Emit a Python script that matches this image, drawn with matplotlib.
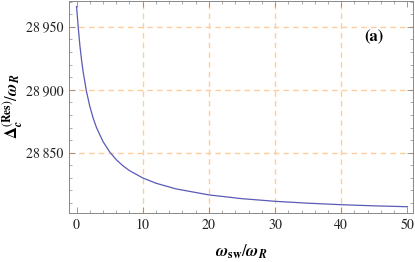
import matplotlib
matplotlib.use("Agg")
import matplotlib.pyplot as plt
from matplotlib.ticker import MultipleLocator, FuncFormatter

# values
x_vals = [0, 0.25, 0.5, 0.75, 1, 1.5, 2, 2.5, 3, 4, 5, 6, 7, 8, 10, 12, 15,
          20, 25, 30, 35, 40, 45, 50]
delta_vals = [28966.2, 28949.8, 28935.3, 28923.9, 28914.1, 28898.6, 28886.9,
              28877.6, 28870.1, 28858.8, 28850.6, 28844.4, 28839.6, 28835.7,
              28829.9, 28825.7, 28821.2, 28816.4, 28813.4, 28811.3, 28809.8,
              28808.6, 28807.7, 28807.0]
grid_x = [10, 20, 30, 40]
grid_y = [28850, 28900, 28950]

plt.rcParams['font.family'] = ['STIXGeneral', 'DejaVu Serif']
plt.rcParams['mathtext.fontset'] = 'stix'

fig = plt.figure(figsize=(4.15, 2.62), dpi=100)
ax = fig.add_axes([0.166, 0.187, 0.83, 0.811])

for gx in grid_x:
    ax.axvline(gx, color='#ffcd9c', lw=1.0, dashes=(4, 3), zorder=1)
for gy in grid_y:
    ax.axhline(gy, color='#ffcd9c', lw=1.0, dashes=(4, 3), zorder=1)

ax.plot(x_vals, delta_vals, color='#5a5ab8', lw=0.9, zorder=3)

ax.set_xlim(-1.16, 50.9)
ax.set_ylim(28802, 28971)
ax.xaxis.set_major_locator(MultipleLocator(10))
ax.xaxis.set_minor_locator(MultipleLocator(2))
ax.yaxis.set_major_locator(MultipleLocator(50))
ax.yaxis.set_minor_locator(MultipleLocator(10))
ax.yaxis.set_major_formatter(FuncFormatter(
    lambda v, p: f"{int(v):,}".replace(',', '\u2009')))

ax.tick_params(which='both', direction='in', top=True, right=True,
               color='#888888', labelsize=10, labelcolor='#222222', pad=4)
ax.tick_params(which='major', length=4, width=0.6)
ax.tick_params(which='minor', length=2.2, width=0.5)
for s in ax.spines.values():
    s.set_color('#888888')
    s.set_linewidth(0.7)

ax.set_xlabel(r'$\boldsymbol{\omega}_{\mathbf{sw}}/\boldsymbol{\omega}_{\boldsymbol{R}}$',
              fontsize=12, labelpad=8)
ax.set_ylabel(r'$\mathbf{\Delta}_{\boldsymbol{c}}^{(\mathbf{Res})}/\boldsymbol{\omega}_{\boldsymbol{R}}$',
              fontsize=12)
ax.yaxis.set_label_coords(-0.128, 0.5)

ax.text(0.885, 0.83, '(a)', transform=ax.transAxes, fontsize=12,
        fontweight='bold', ha='center', va='center')

fig.savefig('out.png', dpi=100)
